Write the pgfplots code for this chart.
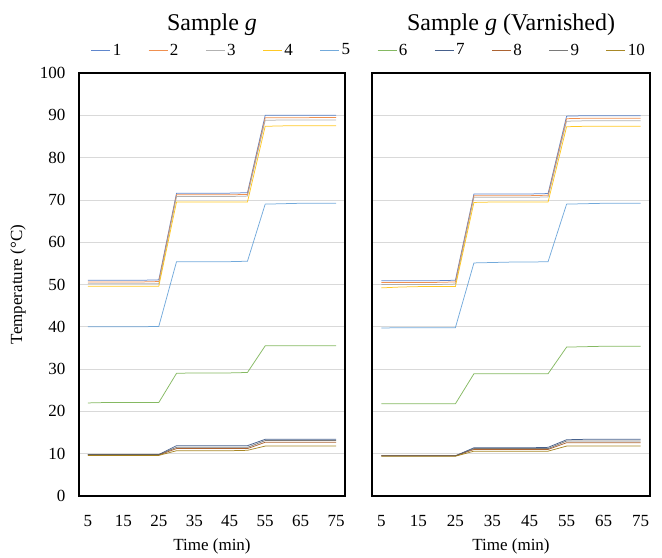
\documentclass[border=0pt]{standalone}
\usepackage{fontspec}
\setmainfont{Liberation Serif}
\usepackage{pgfplots}
\usepackage{pgfplotstable}
\pgfplotsset{compat=1.18}

\definecolor{c1}{HTML}{4472C4}
\definecolor{c2}{HTML}{ED7D31}
\definecolor{c3}{HTML}{A5A5A5}
\definecolor{c4}{HTML}{FFC000}
\definecolor{c5}{HTML}{5B9BD5}
\definecolor{c6}{HTML}{70AD47}
\definecolor{c7}{HTML}{264478}
\definecolor{c8}{HTML}{9E480E}
\definecolor{c9}{HTML}{636363}
\definecolor{c10}{HTML}{997300}
\definecolor{gridgray}{HTML}{D9D9D9}

% sample g
\pgfplotstableread{
t  s1   s2   s3   s4   s5   s6   s7   s8   s9   s10
5  51.0 50.6 50.2 49.6 40.0 22.0 9.8  9.7  9.8  9.6
10 51.0 50.6 50.2 49.6 40.0 22.1 9.8  9.7  9.8  9.6
15 51.0 50.6 50.2 49.6 40.0 22.1 9.8  9.7  9.8  9.6
20 51.0 50.6 50.2 49.6 40.0 22.1 9.8  9.7  9.8  9.6
25 51.1 50.7 50.2 49.6 40.1 22.1 9.8  9.7  9.8  9.6
30 71.6 71.2 70.8 69.5 55.4 29.0 11.9 11.2 11.5 10.7
35 71.6 71.2 70.8 69.5 55.4 29.1 11.9 11.2 11.5 10.7
40 71.6 71.2 70.8 69.5 55.4 29.1 11.9 11.2 11.5 10.7
45 71.6 71.2 70.8 69.5 55.4 29.1 11.9 11.2 11.5 10.7
50 71.7 71.3 70.9 69.5 55.5 29.2 11.9 11.2 11.5 10.8
55 90.0 89.4 88.8 87.4 69.0 35.5 13.4 12.7 13.1 11.8
60 90.0 89.4 88.9 87.5 69.1 35.5 13.4 12.7 13.1 11.8
65 90.0 89.4 88.9 87.5 69.2 35.5 13.4 12.7 13.1 11.8
70 90.0 89.5 88.9 87.5 69.2 35.5 13.4 12.7 13.1 11.8
75 90.0 89.5 88.9 87.5 69.2 35.5 13.4 12.7 13.1 11.8
}\leftdata

% sample g varnished
\pgfplotstableread{
t  s1   s2   s3   s4   s5   s6   s7   s8   s9   s10
5  50.9 50.5 50.0 49.2 39.7 21.8 9.5  9.5  9.5  9.4
10 50.9 50.5 50.0 49.4 39.8 21.8 9.5  9.5  9.5  9.4
15 50.9 50.5 50.0 49.5 39.8 21.8 9.5  9.5  9.5  9.4
20 50.9 50.5 50.0 49.5 39.8 21.8 9.5  9.5  9.5  9.4
25 51.0 50.6 50.1 49.5 39.8 21.8 9.5  9.5  9.5  9.4
30 71.4 71.0 70.6 69.4 55.1 28.9 11.4 11.0 11.2 10.6
35 71.4 71.0 70.6 69.5 55.2 28.9 11.4 11.0 11.2 10.6
40 71.4 71.0 70.6 69.5 55.3 28.9 11.4 11.0 11.2 10.6
45 71.4 71.0 70.6 69.5 55.3 28.9 11.4 11.0 11.2 10.6
50 71.5 71.1 70.7 69.5 55.4 28.9 11.5 11.0 11.2 10.6
55 89.8 89.2 88.6 87.3 69.0 35.2 13.3 12.6 13.0 11.8
60 89.9 89.3 88.7 87.4 69.1 35.3 13.4 12.6 13.0 11.8
65 89.9 89.3 88.7 87.4 69.2 35.4 13.4 12.6 13.0 11.8
70 89.9 89.3 88.7 87.4 69.2 35.4 13.4 12.6 13.0 11.8
75 89.9 89.3 88.7 87.4 69.2 35.4 13.4 12.6 13.0 11.8
}\rightdata

\pgfplotsset{
  panel/.style={
    scale only axis,
    height=423bp,
    xmin=2.5, xmax=77.5,
    ymin=0, ymax=100,
    xtick={5,15,...,75},
    ytick={0,10,...,100},
    tick style={draw=none},
    ymajorgrids=true,
    grid style={gridgray, line width=0.75bp},
    axis line style={line width=1.6bp, black},
    /pgf/number format/assume math mode=true,
    tick label style={font=\fontsize{17bp}{20bp}\selectfont},
    xticklabel style={anchor=center, yshift=-25bp},
    label style={font=\fontsize{17bp}{20bp}\selectfont},
    title style={font=\fontsize{24bp}{28bp}\selectfont, at={(axis description cs:0.5,1.1)}, anchor=center},
    xlabel style={at={(axis description cs:0.5,-0.118)}, anchor=center},
    xlabel={Time (min)},
    every axis plot/.append style={line width=0.75bp, no markers, opacity=0.85},
  },
}

\begin{document}
\begin{tikzpicture}
\path[use as bounding box] (0,0) rectangle (662bp,558bp);

\begin{axis}[
  panel,
  at={(79bp,62bp)}, anchor=south west,
  width=266bp,
  title={Sample \textit{g}},
  ylabel={Temperature (°C)},
  ylabel style={at={(axis description cs:-0.229,0.5)}, anchor=center},
  yticklabel style={anchor=east, xshift=-10bp},
  legend columns=10,
  legend style={at={(axis description cs:1.09,1.054)}, anchor=center,
    draw=none, fill=none, font=\fontsize{17bp}{20bp}\selectfont,
    /tikz/every even column/.append style={column sep=25bp}},
  legend image code/.code={\draw[#1] (0bp,0bp) -- (19bp,0bp);},
]
\addplot[c1] table[x=t, y=s1] {\leftdata};
\addplot[c2] table[x=t, y=s2] {\leftdata};
\addplot[c3] table[x=t, y=s3] {\leftdata};
\addplot[c4] table[x=t, y=s4] {\leftdata};
\addplot[c5] table[x=t, y=s5] {\leftdata};
\addplot[c6] table[x=t, y=s6] {\leftdata};
\addplot[c7] table[x=t, y=s7] {\leftdata};
\addplot[c8] table[x=t, y=s8] {\leftdata};
\addplot[c9] table[x=t, y=s9] {\leftdata};
\addplot[c10] table[x=t, y=s10] {\leftdata};
\legend{1,2,3,4,5,6,7,8,9,10}
\end{axis}

\begin{axis}[
  panel,
  at={(372bp,62bp)}, anchor=south west,
  width=278bp,
  title={Sample \textit{g} (Varnished)},
  yticklabels={},
]
\addplot[c1] table[x=t, y=s1] {\rightdata};
\addplot[c2] table[x=t, y=s2] {\rightdata};
\addplot[c3] table[x=t, y=s3] {\rightdata};
\addplot[c4] table[x=t, y=s4] {\rightdata};
\addplot[c5] table[x=t, y=s5] {\rightdata};
\addplot[c6] table[x=t, y=s6] {\rightdata};
\addplot[c7] table[x=t, y=s7] {\rightdata};
\addplot[c8] table[x=t, y=s8] {\rightdata};
\addplot[c9] table[x=t, y=s9] {\rightdata};
\addplot[c10] table[x=t, y=s10] {\rightdata};
\end{axis}
\end{tikzpicture}
\end{document}
